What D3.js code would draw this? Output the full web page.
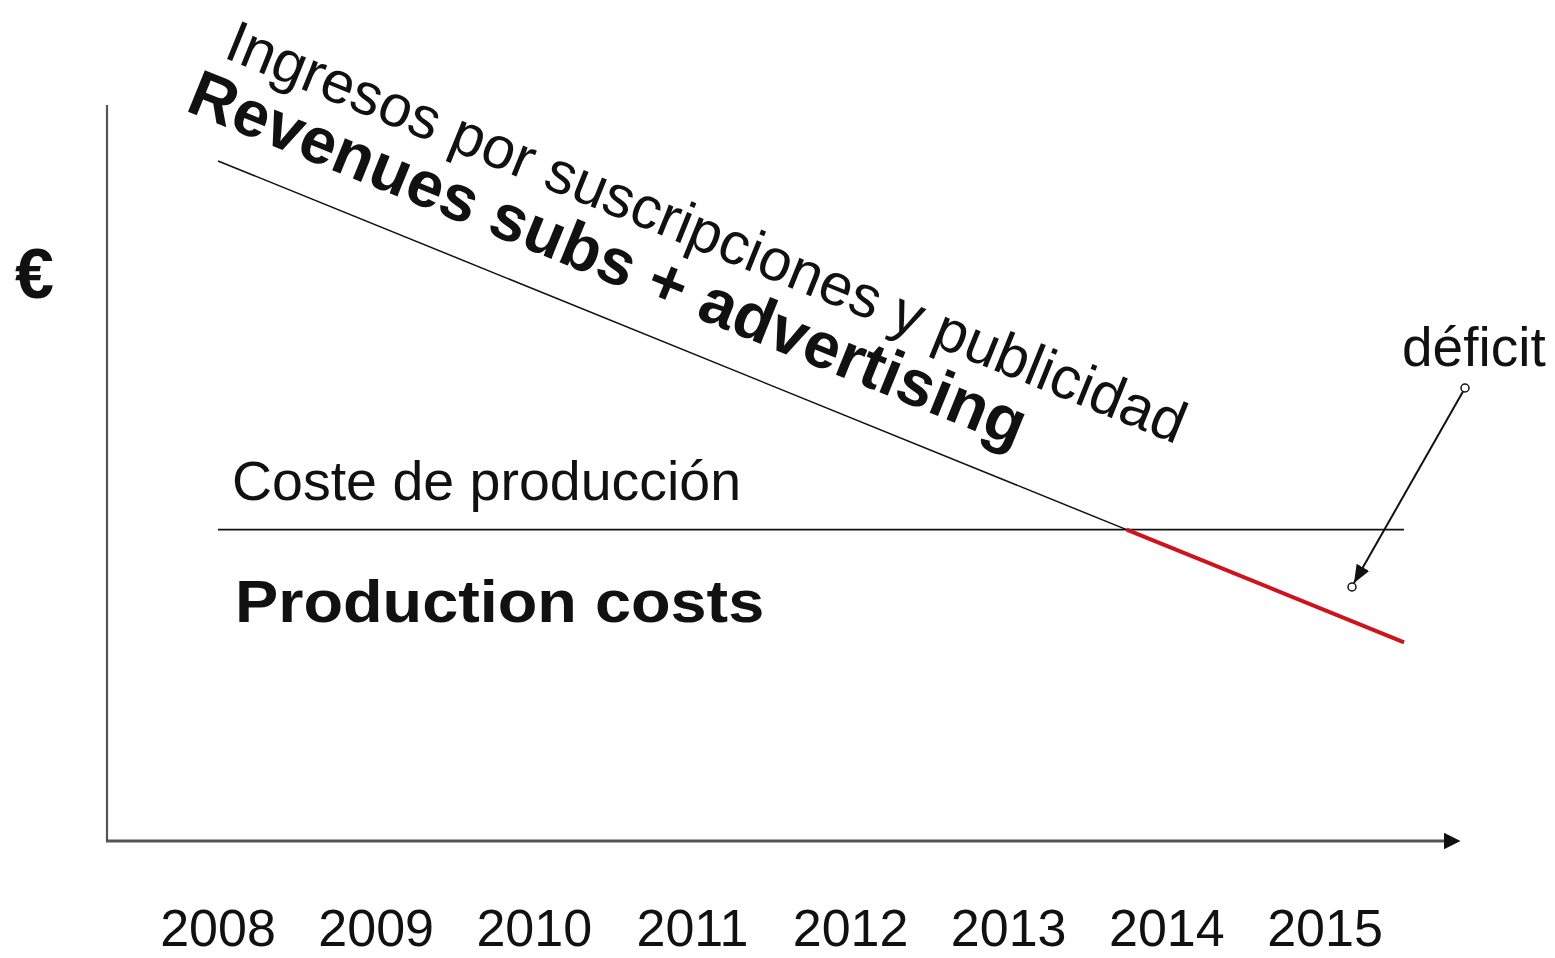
<!DOCTYPE html>
<html>
<head>
<meta charset="utf-8">
<script src="https://cdn.jsdelivr.net/npm/d3@7"></script>
<style>
  body { margin: 0; background: #fff; }
  text { font-family: "Liberation Sans", Arial, sans-serif; fill: #111; }
</style>
</head>
<body>
<div id="chart"></div>
<script>
/* global d3 */

// chart data
const years = [2008, 2009, 2010, 2011, 2012, 2013, 2014, 2015]
const revenueYears = [2008, 2015.5]
const revenueValues = [92.4, 27]
const costYears = [2008, 2015.5]
const costValues = [42.3, 42.3]

const width = 1555,
  height = 958

const xScale = d3.scaleLinear()
  .domain([2008, 2015])
  .range([218, 1325])

const yScale = d3.scaleLinear()
  .domain([0, 100])
  .range([841, 105])

let svg = d3.select('#chart')
  .append('svg')
  .attr('width', width)
  .attr('height', height)

let defs = svg.append('defs')
defs.append('marker')
  .attr('id', 'axisArrow')
  .attr('viewBox', '0 0 10 10')
  .attr('refX', 0)
  .attr('refY', 5)
  .attr('markerWidth', 6)
  .attr('markerHeight', 5.5)
  .attr('markerUnits', 'strokeWidth')
  .attr('orient', 'auto')
  .append('path')
  .attr('d', 'M0,0L10,5L0,10Z')
  .attr('fill', '#111')

defs.append('marker')
  .attr('id', 'noteArrow')
  .attr('viewBox', '0 0 10 10')
  .attr('refX', 10)
  .attr('refY', 5)
  .attr('markerWidth', 9)
  .attr('markerHeight', 9)
  .attr('markerUnits', 'strokeWidth')
  .attr('orient', 'auto')
  .append('path')
  .attr('d', 'M0,1L10,5L0,9Z')
  .attr('fill', '#111')

// axes (no ticks, just the lines)
svg.append('line')
  .attr('x1', 107).attr('y1', yScale(100))
  .attr('x2', 107).attr('y2', yScale(0))
  .attr('stroke', '#555')
  .attr('stroke-width', 2.2)

svg.append('line')
  .attr('x1', 106).attr('y1', yScale(0))
  .attr('x2', 1444).attr('y2', yScale(0))
  .attr('stroke', '#555')
  .attr('stroke-width', 3)
  .attr('marker-end', 'url(#axisArrow)')

// year labels
svg.selectAll('.year')
  .data(years)
  .enter()
  .append('text')
  .attr('class', 'year')
  .attr('x', d => xScale(d))
  .attr('y', 946)
  .attr('text-anchor', 'middle')
  .attr('font-size', 52)
  .text(d => d)

// euro label
svg.append('text')
  .attr('x', 15)
  .attr('y', 298)
  .attr('font-size', 70)
  .attr('font-weight', 'bold')
  .text('€')

let line = d3.line()
  .x(d => xScale(d[0]))
  .y(d => yScale(d[1]))

// production cost line
svg.append('path')
  .datum(d3.zip(costYears, costValues))
  .attr('d', line)
  .attr('fill', 'none')
  .attr('stroke', '#111')
  .attr('stroke-width', 1.6)

// where revenue drops under cost
let slope = (revenueValues[1] - revenueValues[0]) / (revenueYears[1] - revenueYears[0])
let crossYear = revenueYears[0] + (costValues[0] - revenueValues[0]) / slope

svg.append('path')
  .datum([[revenueYears[0], revenueValues[0]], [crossYear, costValues[0]]])
  .attr('d', line)
  .attr('fill', 'none')
  .attr('stroke', '#111')
  .attr('stroke-width', 1.5)

svg.append('path')
  .datum([[crossYear, costValues[0]], [revenueYears[1], revenueValues[1]]])
  .attr('d', line)
  .attr('fill', 'none')
  .attr('stroke', '#d0121b')
  .attr('stroke-width', 4)

// slope angle of revenue line, for the rotated labels
let angle = Math.atan2(yScale(revenueValues[1]) - yScale(revenueValues[0]),
  xScale(revenueYears[1]) - xScale(revenueYears[0])) * 180 / Math.PI

svg.append('text')
  .attr('transform', `translate(222,57) rotate(${angle})`)
  .attr('font-size', 59)
  .text('Ingresos por suscripciones y publicidad')

svg.append('text')
  .attr('transform', `translate(184,110) rotate(${angle})`)
  .attr('font-size', 65)
  .attr('font-weight', 'bold')
  .text('Revenues subs + advertising')

svg.append('text')
  .attr('x', 232)
  .attr('y', 500)
  .attr('font-size', 55.5)
  .text('Coste de producción')

svg.append('text')
  .attr('transform', 'translate(235,622) scale(1.08,1)')
  .attr('font-size', 60)
  .attr('font-weight', 'bold')
  .text('Production costs')

svg.append('text')
  .attr('x', 1402)
  .attr('y', 366)
  .attr('font-size', 55)
  .text('déficit')

// deficit pointer
svg.append('line')
  .attr('x1', 1465).attr('y1', 388)
  .attr('x2', 1354).attr('y2', 583)
  .attr('stroke', '#111')
  .attr('stroke-width', 2)
  .attr('marker-end', 'url(#noteArrow)')

svg.selectAll('.dot')
  .data([[1465, 388], [1352, 587]])
  .enter()
  .append('circle')
  .attr('cx', d => d[0])
  .attr('cy', d => d[1])
  .attr('r', 4)
  .attr('fill', '#fff')
  .attr('stroke', '#111')
  .attr('stroke-width', 1.5)
</script>
</body>
</html>
